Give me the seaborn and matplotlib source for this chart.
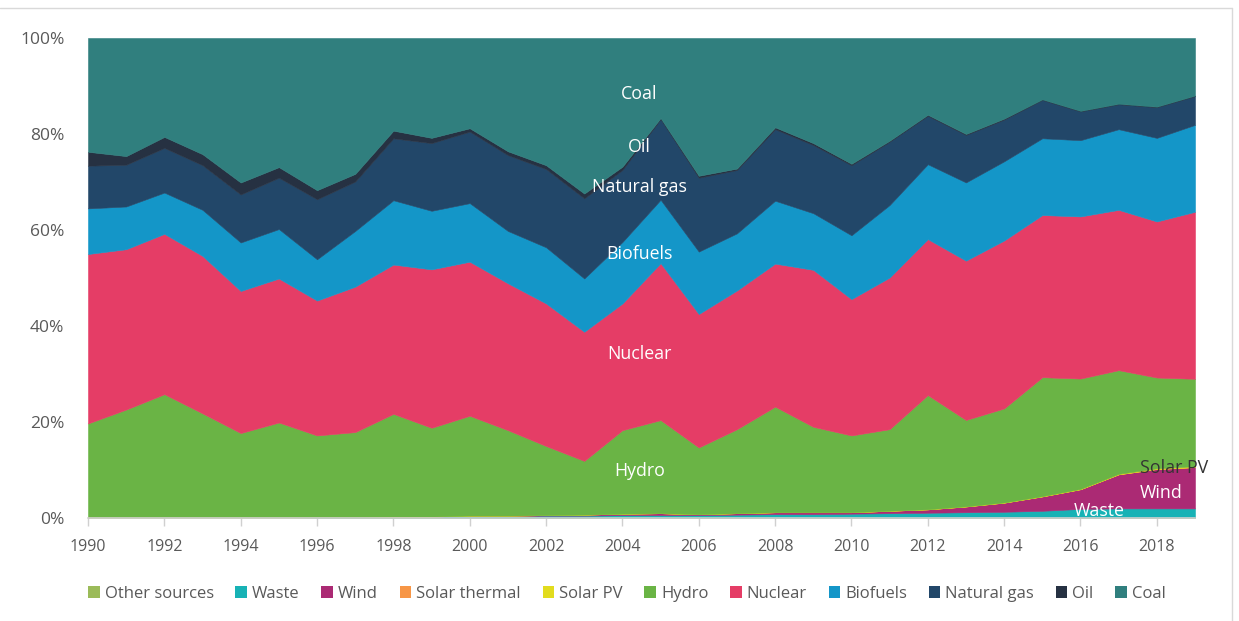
import numpy as np
import matplotlib
matplotlib.use("Agg")
import matplotlib.pyplot as plt
import seaborn as sns
from matplotlib.patches import Patch
from matplotlib.lines import Line2D


# ---------------------------
# Data (share of total, %)
# ---------------------------

years = list(range(1990, 2020))

other_sources = [0.2, 0.2, 0.2, 0.2, 0.2, 0.2, 0.1, 0.1, 0.1, 0.1,
                 0.1, 0.1, 0.1, 0.1, 0.1, 0.1, 0.1, 0.1, 0.1, 0.1,
                 0.1, 0.1, 0.1, 0.1, 0.1, 0.1, 0.1, 0.1, 0.1, 0.1]
waste = [0.0, 0.0, 0.0, 0.0, 0.0, 0.0, 0.1, 0.1, 0.2, 0.2,
         0.3, 0.3, 0.4, 0.4, 0.5, 0.5, 0.5, 0.6, 0.7, 0.7,
         0.8, 0.9, 1.0, 1.1, 1.2, 1.4, 1.8, 1.9, 1.9, 1.9]
wind = [0.0, 0.0, 0.0, 0.0, 0.0, 0.0, 0.0, 0.0, 0.0, 0.0,
        0.1, 0.1, 0.1, 0.2, 0.3, 0.4, 0.2, 0.3, 0.4, 0.4,
        0.3, 0.5, 0.7, 1.2, 1.9, 3.0, 4.1, 7.1, 8.2, 8.6]
solar_thermal = [0.0] * 30
solar_pv = [0.0, 0.0, 0.0, 0.0, 0.0, 0.0, 0.0, 0.0, 0.0, 0.0,
            0.0, 0.0, 0.0, 0.0, 0.0, 0.0, 0.0, 0.0, 0.0, 0.0,
            0.0, 0.01, 0.02, 0.03, 0.04, 0.05, 0.07, 0.1, 0.15, 0.2]
hydro = [19.5, 22.4, 25.6, 21.6, 17.5, 19.7, 17.0, 17.7, 21.4, 18.5,
         20.8, 17.8, 14.4, 11.2, 17.4, 19.4, 13.9, 17.5, 22.0, 17.8,
         16.0, 17.0, 23.8, 18.0, 19.6, 24.8, 23.0, 21.6, 18.9, 18.2]
nuclear = [35.3, 33.4, 33.4, 32.8, 29.6, 30.0, 28.1, 30.3, 31.1, 33.0,
           32.1, 30.6, 29.7, 26.9, 26.4, 32.7, 27.8, 28.9, 29.8, 32.7,
           28.4, 31.6, 32.5, 33.2, 35.0, 33.8, 33.8, 33.4, 32.5, 34.8]
biofuels = [9.5, 8.9, 8.6, 9.6, 10.1, 10.3, 8.6, 11.6, 13.4, 12.2,
            12.2, 10.9, 11.7, 11.1, 12.8, 13.2, 13.0, 11.9, 13.1, 11.8,
            13.3, 15.1, 15.6, 16.3, 16.5, 16.0, 15.9, 16.8, 17.4, 18.1]
natural_gas = [8.9, 8.7, 9.3, 9.3, 10.0, 10.7, 12.5, 10.3, 12.9, 14.1,
               14.9, 15.8, 16.3, 16.7, 15.0, 16.8, 15.4, 13.2, 14.9, 14.2,
               14.6, 13.2, 10.1, 9.9, 8.7, 8.0, 6.0, 5.2, 6.4, 6.0]
oil = [2.9, 1.8, 2.3, 2.3, 2.5, 2.2, 1.9, 1.6, 1.6, 1.1,
       0.7, 0.8, 0.8, 1.0, 0.7, 0.2, 0.4, 0.3, 0.4, 0.4,
       0.3, 0.2, 0.2, 0.2, 0.2, 0.1, 0.1, 0.1, 0.1, 0.1]
coal = [23.7, 24.6, 20.6, 24.2, 30.1, 26.9, 31.7, 28.3, 19.3, 20.8,
        18.8, 23.6, 26.5, 32.4, 26.8, 16.7, 28.7, 27.2, 18.6, 21.9,
        26.2, 21.4, 16.0, 20.0, 16.8, 12.8, 15.2, 13.7, 14.3, 12.0]

series_names = ["Other sources", "Waste", "Wind", "Solar thermal", "Solar PV",
                "Hydro", "Nuclear", "Biofuels", "Natural gas", "Oil", "Coal"]
series_colors = ["#9bbb59", "#17b2b5", "#ab2a74", "#f79646", "#e2dc1e",
                 "#6ab445", "#e53d66", "#1496c8", "#224769", "#263142", "#307f7e"]

# ---------------------------
# Plot
# ---------------------------

sns.set_theme(style="white")
plt.rcParams["font.family"] = ["Open Sans", "DejaVu Sans"]

fig = plt.figure(figsize=(12.39, 6.21), dpi=100)
ax = fig.add_axes([88 / 1239, 103 / 621, (1195 - 88) / 1239, 480 / 621])

values = np.array([other_sources, waste, wind, solar_thermal, solar_pv,
                   hydro, nuclear, biofuels, natural_gas, oil, coal])
values = values / values.sum(axis=0) * 100

ax.stackplot(years, values, colors=series_colors, linewidth=0.4,
             edgecolor="face", antialiased=True)

ax.set_xlim(1990, 2019)
ax.set_ylim(0, 100)
ax.set_xticks(range(1990, 2019, 2))
ax.set_yticks(range(0, 101, 20))
ax.set_yticklabels([f"{v}%" for v in range(0, 101, 20)])

grey = "#595959"
ax.tick_params(axis="x", colors="#d0d0d0", labelcolor=grey, labelsize=11.5,
               length=6, width=1, direction="out", bottom=True, pad=9)
ax.tick_params(axis="y", labelcolor=grey, labelsize=12.5, length=0, pad=17)

sns.despine(ax=ax, left=True, top=True, right=True)
ax.spines["bottom"].set_color("#d0d0d0")
ax.spines["bottom"].set_linewidth(1.2)

# Labels inside the areas
lab_x = 2004.45
for txt, yv in [("Coal", 88.3), ("Oil", 77.3), ("Natural gas", 69.0),
                ("Biofuels", 55.0), ("Nuclear", 34.2), ("Hydro", 9.8)]:
    ax.text(lab_x, yv, txt, color="white", fontsize=12.8, ha="center", va="center")

ax.text(2018.45, 10.5, "Solar PV", color="#333333", fontsize=12.8,
        ha="center", va="center", clip_on=False)
ax.text(2018.1, 5.2, "Wind", color="white", fontsize=12.8, ha="center", va="center")
ax.text(2016.5, 1.5, "Waste", color="white", fontsize=12.8, ha="center", va="center")

# Legend
handles = [Patch(facecolor=c, edgecolor="none") for c in series_colors]
fig.legend(handles, series_names, loc="center", bbox_to_anchor=(0.506, 1 - 594 / 621),
           ncol=11, frameon=False, fontsize=12, handlelength=0.7,
           handleheight=0.7, handletextpad=0.3, columnspacing=1.3,
           labelcolor=grey)

# Light card border (top and right)
fig.add_artist(Line2D([0, 1232 / 1239], [1 - 8 / 621, 1 - 8 / 621],
                      color="#d9d9d9", lw=1, transform=fig.transFigure))
fig.add_artist(Line2D([1232 / 1239, 1232 / 1239], [0, 1 - 8 / 621],
                      color="#d9d9d9", lw=1, transform=fig.transFigure))

fig.savefig("out.png", dpi=100)
